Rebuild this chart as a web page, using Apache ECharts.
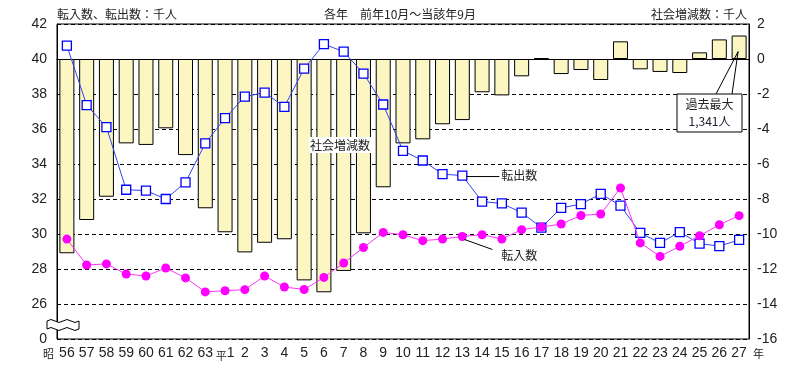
<!DOCTYPE html>
<html><head><meta charset="utf-8">
<script src="https://cdn.jsdelivr.net/npm/echarts@6/dist/echarts.min.js"></script>
<style>html,body{margin:0;padding:0;background:#fff}#c{width:799px;height:379px}</style>
</head><body><div id="c"></div>
<script>
const categories = ['56','57','58','59','60','61','62','63','平1','2','3','4','5','6','7','8','9','10','11','12','13','14','15','16','17','18','19','20','21','22','23','24','25','26','27'];
const socialChange = [-11.1,-9.2,-7.87,-4.82,-4.91,-3.96,-5.49,-8.53,-9.9,-11.05,-10.5,-10.3,-12.65,-13.33,-12.11,-9.96,-7.33,-4.82,-4.59,-3.73,-3.49,-1.9,-2.08,-0.99,0.04,-0.86,-0.63,-1.2,1.01,-0.59,-0.74,-0.8,0.38,1.12,1.341];
const transferOut = [40.76,37.37,36.11,32.53,32.48,32.0,32.95,35.18,36.62,37.85,38.08,37.27,39.45,40.85,40.42,39.17,37.4,34.75,34.2,33.42,33.34,31.85,31.75,31.22,30.37,31.49,31.71,32.29,31.62,30.06,29.49,30.11,29.45,29.31,29.66];
const transferIn = [29.71,28.23,28.29,27.71,27.6,28.06,27.49,26.69,26.76,26.82,27.6,26.97,26.83,27.52,28.34,29.23,30.09,29.96,29.62,29.71,29.86,29.96,29.71,30.25,30.4,30.57,31.06,31.14,32.63,29.49,28.72,29.3,29.9,30.53,31.05];
const leftTickBreak = 24; // shown as "0"

const FONT = "'Liberation Sans','Noto Sans CJK JP',sans-serif";
const JFONT = "'Noto Sans CJK JP',sans-serif";
const chart = echarts.init(document.getElementById('c'), null, {renderer:'canvas'});
const option = {
  animation: false,
  backgroundColor: '#fff',
  grid: {left:57, right:50, top:24, bottom:40, show:true, borderColor:'#000', borderWidth:1, backgroundColor:'transparent'},
  xAxis: {
    type:'category', data: categories, boundaryGap:true,
    axisLine:{show:true, lineStyle:{color:'#000', width:1}},
    axisTick:{show:false},
    axisLabel:{interval:0, color:'#222', fontSize:14, fontFamily:FONT, margin:7,
      formatter: v => v.startsWith('平') ? '{s|平}' + v.slice(1) : v,
      rich:{s:{fontSize:11, fontFamily:JFONT, color:'#222', padding:[4,0,0,0]}}},
    splitLine:{show:false}
  },
  yAxis: [
    {type:'value', min:24, max:42, interval:2, position:'left',
     axisLine:{show:true, lineStyle:{color:'#000'}}, axisTick:{show:false},
     axisLabel:{color:'#222', fontSize:14, fontFamily:FONT, margin:10,
       formatter: v => v === leftTickBreak ? '0' : String(v)},
     splitLine:{show:false}},
    {type:'value', min:-16, max:2, interval:2, position:'right',
     axisLine:{show:true, lineStyle:{color:'#000'}}, axisTick:{show:false},
     axisLabel:{color:'#222', fontSize:14, fontFamily:FONT, margin:8},
     splitLine:{show:true, lineStyle:{color:'#000', type:[4,3], width:1}}}
  ],
  series: [
    {name:'社会増減数', type:'bar', yAxisIndex:1, data: socialChange, barWidth:15,
     itemStyle:{color:'#FBF6C2', borderColor:'#000', borderWidth:1}, z:2},
    {name:'転出数', type:'line', yAxisIndex:0, data: transferOut,
     symbol:'rect', symbolSize:9, lineStyle:{color:'#3344EE', width:1},
     itemStyle:{color:'#fff', borderColor:'#0000FF', borderWidth:1.3}, z:4},
    {name:'転入数', type:'line', yAxisIndex:0, data: transferIn,
     symbol:'circle', symbolSize:9, lineStyle:{color:'#FF33FF', width:1},
     itemStyle:{color:'#FF00FF', borderColor:'#FF00FF', borderWidth:0}, z:5}
  ]
};
chart.setOption(option);

const last = categories.length - 1;
const p27 = chart.convertToPixel({seriesIndex:0}, [last, socialChange[last]]);
const i13 = categories.indexOf('13');
const pOut = chart.convertToPixel({seriesIndex:1}, [i13, transferOut[i13]]);
const pIn = chart.convertToPixel({seriesIndex:2}, [i13, transferIn[i13]]);
const txt = (x,y,s,align) => ({type:'text', x, y, z:20, style:{text:s, fill:'#222', font:'12px ' + JFONT, align: align || 'left'}});

// wavy break symbol
const wave = [];
for (let i = 0; i <= 8; i++) { const x = 47 + i*4; wave.push([x, 321 + (i%4===1 ? -1.5 : (i%4===3 ? 1.5 : 0))]); }
for (let i = 8; i >= 0; i--) { const x = 47 + i*4; wave.push([x, 329 + (i%4===1 ? -1.5 : (i%4===3 ? 1.5 : 0))]); }

chart.setOption({graphic: [
  txt(57, 8, '転入数、転出数：千人'),
  txt(324, 8, '各年　前年10月～当該年9月'),
  txt(747, 8, '社会増減数：千人', 'right'),
  {type:'text', x:309, y:137, z:20, style:{text:'社会増減数', fill:'#222', font:'12px '+JFONT, backgroundColor:'#fff', padding:[2,1,2,1]}},
  {type:'line', z:20, shape:{x1:pOut[0]+4, y1:pOut[1]+1, x2:pOut[0]+37, y2:pOut[1]+1}, style:{stroke:'#000', lineWidth:1}},
  txt(pOut[0]+39, pOut[1]-6, '転出数'),
  {type:'line', z:20, shape:{x1:pIn[0]+2, y1:pIn[1]+3, x2:pIn[0]+30, y2:pIn[1]+13}, style:{stroke:'#000', lineWidth:1}},
  txt(pIn[0]+39, pIn[1]+13, '転入数'),
  {type:'line', z:20, shape:{x1:716, y1:94, x2:p27[0]-1, y2:p27[1]+16}, style:{stroke:'#000', lineWidth:1}},
  {type:'line', z:20, shape:{x1:732, y1:94, x2:p27[0]-1, y2:p27[1]+16}, style:{stroke:'#000', lineWidth:1}},
  {type:'rect', z:19, shape:{x:677, y:94, width:65, height:38}, style:{fill:'#fff', stroke:'#000', lineWidth:1}},
  {type:'text', z:21, x:709.5, y:98, style:{text:'過去最大', fill:'#222', font:'12px '+JFONT, align:'center'}},
  {type:'text', z:21, x:709.5, y:115, style:{text:'1,341人', fill:'#223', font:'12px '+JFONT, align:'center'}},
  {type:'polygon', z:20, shape:{points: wave}, style:{fill:'#fff', stroke:'#000', lineWidth:1}},
  {type:'text', z:20, x:43, y:348, style:{text:'昭', fill:'#222', font:'11px '+JFONT}},
  {type:'text', z:20, x:753, y:348, style:{text:'年', fill:'#222', font:'11px '+JFONT}}
]});
</script></body></html>
